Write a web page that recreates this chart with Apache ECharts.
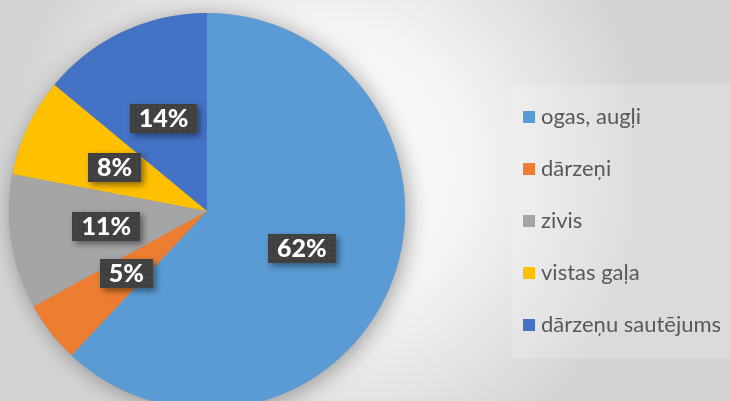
<!DOCTYPE html>
<html>
<head>
    <meta charset="utf-8">
    <title></title>
    <style>
        html, body { margin: 0; padding: 0; }
    </style>
</head>
<body>
    <div id="main" style="width: 730px;height:401px;"></div>
    <script src="https://cdn.jsdelivr.net/npm/echarts@6/dist/echarts.min.js" charset="utf-8"></script>
    <script>
    var categories = ['ogas, augļi', 'dārzeņi', 'zivis', 'vistas gaļa', 'dārzeņu sautējums'];
    var values = [62, 5, 11, 8, 14];
    var colors = ['#5B9BD5', '#ED7D31', '#A5A5A5', '#FFC000', '#4472C4'];

    // small dotted texture for the label boxes
    var dots = document.createElement('canvas');
    dots.width = 64;
    dots.height = 28;
    var ctx = dots.getContext('2d');
    ctx.fillStyle = '#404040';
    ctx.fillRect(0, 0, 64, 28);
    ctx.fillStyle = '#494949';
    for (var i = 2; i < 64; i += 5) {
        for (var j = 2; j < 28; j += 5) {
            ctx.fillRect(i, j, 2, 2);
        }
    }

    var pieData = categories.map(function (name, i) {
        return { name: name, value: values[i], itemStyle: { color: colors[i] } };
    });

    var myChart = echarts.init(document.getElementById('main'));
    var option = {
        animation: false,
        backgroundColor: {
            type: 'radial', x: 0.45, y: 0.42, r: 0.8,
            colorStops: [
                { offset: 0, color: '#ffffff' },
                { offset: 0.45, color: '#f4f4f4' },
                { offset: 1, color: '#d4d4d4' }
            ]
        },
        legend: {
            orient: 'vertical',
            left: 512,
            top: 85,
            padding: [21, 40, 22, 11],
            backgroundColor: 'rgba(255,255,255,0.18)',
            itemWidth: 12,
            itemHeight: 12,
            itemGap: 30,
            icon: 'rect',
            data: categories,
            textStyle: {
                fontFamily: 'Lato',
                fontSize: 22,
                color: '#595959',
                lineHeight: 22,
                padding: [0, 0, 0, 1]
            }
        },
        series: [{
            type: 'pie',
            silent: true,
            radius: 198,
            center: [207, 211],
            label: { show: false },
            itemStyle: {
                color: '#999',
                shadowBlur: 22,
                shadowColor: 'rgba(0,0,0,0.35)',
                shadowOffsetX: 3,
                shadowOffsetY: 3
            },
            data: [{ name: '', value: 1 }]
        }, {
            type: 'pie',
            radius: 198,
            center: [207, 211],
            startAngle: 90,
            clockwise: true,
            label: {
                show: true,
                position: 'inside',
                formatter: '{c}%',
                fontFamily: 'Lato',
                fontWeight: 900,
                fontSize: 25,
                color: '#ffffff',
                backgroundColor: { image: dots },
                padding: [3, 9, 1, 9],
                shadowColor: 'rgba(0,0,0,0.45)',
                shadowBlur: 6,
                shadowOffsetX: 3,
                shadowOffsetY: 3
            },
            labelLine: { show: false },
            emphasis: { disabled: true },
            data: pieData
        }]
    };
    myChart.setOption(option);
    </script>
</body>
</html>
